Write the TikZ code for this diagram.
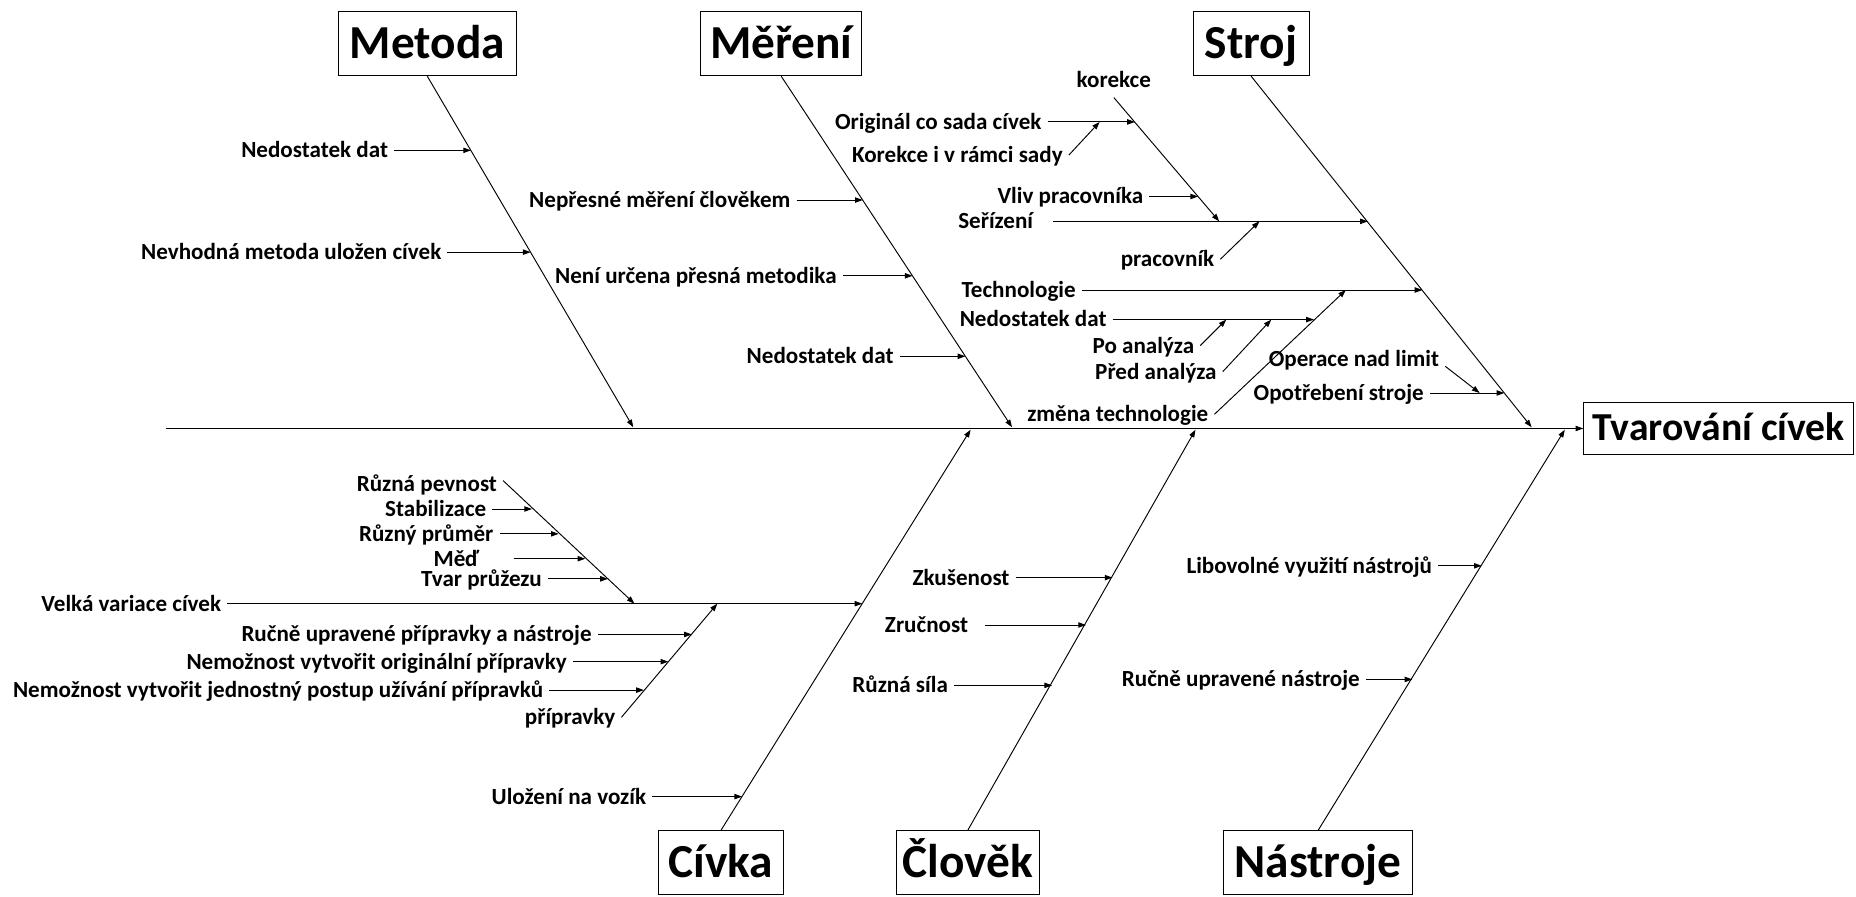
\documentclass[tikz,border=0pt]{standalone}
\usepackage{fontspec}
\setmainfont{Carlito}
\usetikzlibrary{arrows.meta}

\tikzset{
    category/.style={draw, line width=0.8pt, font=\fontsize{40}{46}\selectfont\bfseries,
        inner xsep=4pt, inner ysep=14.5pt, text height=25pt, text depth=0pt},
    effect/.style={category, font=\fontsize{33.5}{38}\selectfont\bfseries,
        inner ysep=11.5pt, text height=21pt},
    cause/.style={font=\fontsize{19.5}{22}\selectfont\bfseries, anchor=east,
        inner xsep=5pt, inner ysep=0pt, text height=12.5pt, text depth=0pt},
    bone/.style={line width=0.8pt, -{Triangle[length=6.5pt, width=4.5pt]}},
}

\begin{document}
\begin{tikzpicture}[x=1pt, y=-1pt]
    \useasboundingbox (0,0) rectangle (1568,757);

    % effect and spine
    \node[effect, minimum width=228pt] (effect) at (1452,362) {Tvarování cívek};
    \coordinate (tail) at (140,362);
    \draw[bone] (tail) -- (effect.west);

    % categories
    \node[category, minimum width=150pt] (metoda) at (361,37) {Metoda};
    \node[category, minimum width=136pt] (mereni) at (660,37) {Měření};
    \node[category, minimum width=98pt] (stroj) at (1057,37) {Stroj};
    \node[category, minimum width=106pt] (civka) at (609,729) {Cívka};
    \node[category, minimum width=121pt] (clovek) at (817.5,729) {Člověk};
    \node[category, minimum width=159pt] (nastroje) at (1113.5,729) {Nástroje};

    \coordinate (metE) at (535,361);
    \coordinate (merE) at (855,361);
    \coordinate (strE) at (1294,361);
    \coordinate (civE) at (820,363);
    \coordinate (cloE) at (1010,363);
    \coordinate (nasE) at (1322,363);
    \draw[bone] (metoda.south) -- (metE);
    \draw[bone] (mereni.south) -- (merE);
    \draw[bone] (stroj.south) -- (strE);
    \draw[bone] (civka.north) -- (civE);
    \draw[bone] (clovek.north) -- (cloE);
    \draw[bone] (nastroje.north) -- (nasE);

    % Metoda
    \node[cause] (mt1) at (333,127) {Nedostatek dat};
    \node[cause] (mt2) at (378,213) {Nevhodná metoda uložen cívek};
    \coordinate (mt1E) at (397.9,127);
    \coordinate (mt2E) at (448.3,213);
    \draw[bone] (mt1.east) -- (mt1E);
    \draw[bone] (mt2.east) -- (mt2E);

    % Měření
    \node[cause] (mr1) at (673,169) {Nepřesné měření člověkem};
    \node[cause] (mr2) at (712,233) {Není určena přesná metodika};
    \node[cause] (mr3) at (760,301) {Nedostatek dat};
    \coordinate (mr1E) at (728.9,169);
    \coordinate (mr2E) at (771,233);
    \coordinate (mr3E) at (815.6,301);
    \draw[bone] (mr1.east) -- (mr1E);
    \draw[bone] (mr2.east) -- (mr2E);
    \draw[bone] (mr3.east) -- (mr3E);

    % Stroj
    \node[cause] (ser) at (878,187) {Seřízení};
    \node[cause] (tech) at (914,245) {Technologie};
    \node[cause] (opo) at (1208,332) {Opotřebení stroje};
    \node[cause] (opl) at (1221,303) {Operace nad limit};
    \coordinate (serE) at (1155.6,187);
    \coordinate (techE) at (1201.7,245);
    \coordinate (opoE) at (1270.9,332);
    \coordinate (oplE) at (1250,332);
    \draw[bone] ([xshift=12pt]ser.east) -- (serE);
    \draw[bone] (tech.east) -- (techE);
    \draw[bone] (opo.east) -- (opoE);
    \draw[bone] (opl.south east) -- (oplE);

    \node[cause, anchor=center] (kor) at (941,68) {korekce};
    \node[cause] (orig) at (885,103) {Originál co sada cívek};
    \node[cause] (kvr) at (903,131) {Korekce i v rámci sady};
    \node[cause] (vliv) at (971,166) {Vliv pracovníka};
    \node[cause] (prac) at (1031,219) {pracovník};
    \coordinate (korE) at (1030,187);
    \coordinate (origE) at (958.8,103);
    \coordinate (kvrE) at (929,103);
    \coordinate (vlivE) at (1012.2,166);
    \coordinate (pracE) at (1064,187);
    \draw[bone] ([yshift=-8pt]kor.south) -- (korE);
    \draw[bone] (orig.east) -- (origE);
    \draw[bone] (kvr.east) -- (kvrE);
    \draw[bone] (vliv.east) -- (vlivE);
    \draw[bone] (prac.east) -- (pracE);

    \node[cause] (zmena) at (1026,350) {změna technologie};
    \node[cause] (nd) at (940,270) {Nedostatek dat};
    \node[cause] (po) at (1014,292) {Po analýza};
    \node[cause] (pred) at (1033,314) {Před analýza};
    \coordinate (zmenaE) at (1137,245);
    \coordinate (ndE) at (1110,270);
    \coordinate (poE) at (1036,270);
    \coordinate (predE) at (1074,270);
    \draw[bone] (zmena.east) -- (zmenaE);
    \draw[bone] (nd.east) -- (ndE);
    \draw[bone] (po.east) -- (poE);
    \draw[bone] (pred.east) -- (predE);

    % Cívka
    \node[cause] (vel) at (192,510) {Velká variace cívek};
    \node[cause] (ulo) at (551,673) {Uložení na vozík};
    \coordinate (velE) at (728.5,510);
    \coordinate (uloE) at (627,673);
    \draw[bone] (vel.east) -- (velE);
    \draw[bone] (ulo.east) -- (uloE);

    \node[cause] (rp) at (425,409) {Různá pevnost};
    \node[cause] (stab) at (416,430) {Stabilizace};
    \node[cause] (rpr) at (422,451) {Různý průměr};
    \node[cause] (med) at (410,472) {Měď};
    \node[cause] (tvar) at (463,489) {Tvar průžezu};
    \coordinate (rpE) at (536,510);
    \coordinate (stabE) at (449.5,430);
    \coordinate (rprE) at (472,451);
    \coordinate (medE) at (494.5,472);
    \coordinate (tvarE) at (513.6,489);
    \draw[bone] ([yshift=3pt]rp.east) -- (rpE);
    \draw[bone] (stab.east) -- (stabE);
    \draw[bone] (rpr.east) -- (rprE);
    \draw[bone] ([xshift=24pt]med.east) -- (medE);
    \draw[bone] (tvar.east) -- (tvarE);

    \node[cause] (pri) at (525,606) {přípravky};
    \node[cause] (ru) at (505,536) {Ručně upravené přípravky a nástroje};
    \node[cause] (nem1) at (484,559) {Nemožnost vytvořit originální přípravky};
    \node[cause] (nem2) at (464,583) {Nemožnost vytvořit jednostný postup užívání přípravků};
    \coordinate (priE) at (606,510);
    \coordinate (ruE) at (584.5,536);
    \coordinate (nem1E) at (564.6,559);
    \coordinate (nem2E) at (544,583);
    \draw[bone] (pri.east) -- (priE);
    \draw[bone] (ru.east) -- (ruE);
    \draw[bone] (nem1.east) -- (nem1E);
    \draw[bone] (nem2.east) -- (nem2E);

    % Člověk
    \node[cause] (zk) at (858,488) {Zkušenost};
    \node[cause] (zr) at (823,528) {Zručnost};
    \node[cause] (rs) at (806,579) {Různá síla};
    \coordinate (zkE) at (939.9,488);
    \coordinate (zrE) at (917.5,528);
    \coordinate (rsE) at (888.9,579);
    \draw[bone] (zk.east) -- (zkE);
    \draw[bone] ([xshift=9pt]zr.east) -- (zrE);
    \draw[bone] (rs.east) -- (rsE);

    % Nástroje
    \node[cause] (lib) at (1215,478) {Libovolné využití nástrojů};
    \node[cause] (run) at (1154,574) {Ručně upravené nástroje};
    \coordinate (libE) at (1251.8,478);
    \coordinate (runE) at (1193.2,574);
    \draw[bone] (lib.east) -- (libE);
    \draw[bone] (run.east) -- (runE);
\end{tikzpicture}
\end{document}
